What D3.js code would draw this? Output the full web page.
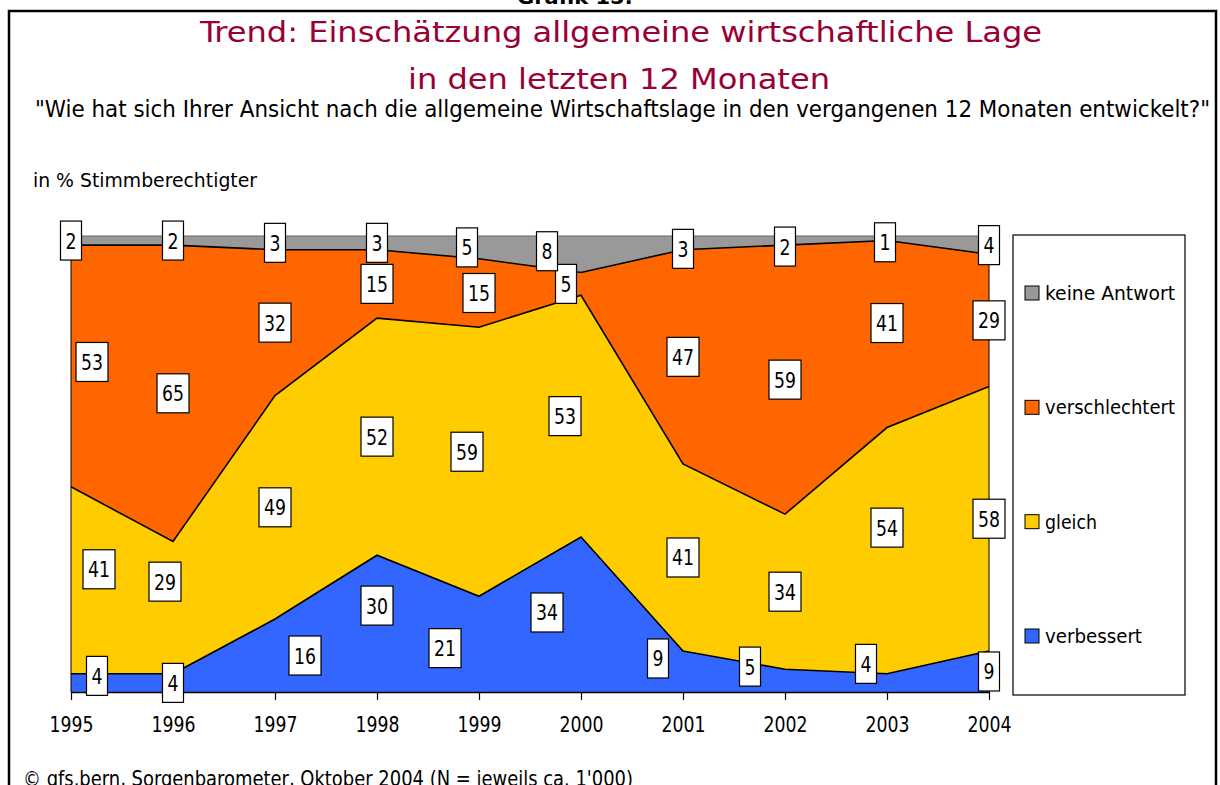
<!DOCTYPE html>
<html>
<head>
<meta charset="utf-8">
<script src="https://cdn.jsdelivr.net/npm/d3@7"></script>
<style>
  html, body { margin: 0; padding: 0; background: #fff; overflow: hidden; }
  svg { display: block; font-family: "DejaVu Sans", Verdana, sans-serif; font-stretch: condensed; }
</style>
</head>
<body>
<svg id="chart" width="1220" height="785"></svg>
<script>
var years = [1995, 1996, 1997, 1998, 1999, 2000, 2001, 2002, 2003, 2004];
var verbessert     = [4, 4, 16, 30, 21, 34, 9, 5, 4, 9];
var gleich         = [41, 29, 49, 52, 59, 53, 41, 34, 54, 58];
var verschlechtert = [53, 65, 32, 15, 15, 5, 47, 59, 41, 29];
var keineAntwort   = [2, 2, 3, 3, 5, 8, 3, 2, 1, 4];

var seriesNames  = ["verbessert", "gleich", "verschlechtert", "keine Antwort"];
var seriesValues = [verbessert, gleich, verschlechtert, keineAntwort];
var seriesColors = ["#3366ff", "#ffcc00", "#ff6600", "#999999"];

// hand-moved data labels in the original (px offsets)
var labelNudge = {
  "keine Antwort": { 1999: [-12, 0], 2000: [-34, -3], 2001: [0, 6], 2002: [0, 6], 2003: [-2, 4] },
  "verschlechtert": { 1995: [21, -4], 2000: [-15, 0], 2003: [0, -11] },
  "gleich": { 1995: [28, -11], 1996: [-8, -26], 1999: [-12, -10], 2000: [-16, 0], 2003: [0, -23] },
  "verbessert": { 1995: [26, -7], 1997: [30, 0], 1998: [0, -18], 1999: [-34, 4], 2000: [-34, -2],
                  2001: [-25, -13], 2002: [-35, -14], 2003: [-21, -19] }
};

var table = years.map(function (yr, i) {
  var row = { year: yr };
  seriesNames.forEach(function (s, k) { row[s] = seriesValues[k][i]; });
  return row;
});

var svg = d3.select("#chart");

var x = d3.scaleLinear().domain([1995, 2004]).range([71, 989]);
var y = d3.scaleLinear().domain([0, 100]).range([692, 236]);

var stacked = d3.stack().keys(seriesNames)(table);

// text helper: size for height, textLength for the width of the original
function label(g, str, px, py, size, width, anchor, color, weight) {
  var t = g.append("text")
    .attr("x", px).attr("y", py)
    .attr("font-size", size)
    .attr("text-anchor", anchor || "start")
    .attr("fill", color || "#000")
    .attr("font-weight", weight || "normal")
    .text(str);
  if (width) t.attr("textLength", width).attr("lengthAdjust", "spacingAndGlyphs");
  return t;
}

// frame
svg.append("rect")
  .attr("x", 9).attr("y", 11).attr("width", 1207).attr("height", 800)
  .attr("fill", "none").attr("stroke", "#000").attr("stroke-width", 2.5);

label(svg, "Grafik 15:", 575, 4, 20, 116, "middle", "#000", "bold");
label(svg, "Trend: Einschätzung allgemeine wirtschaftliche Lage", 621, 42, 28, 842, "middle", "#990033");
label(svg, "in den letzten 12 Monaten", 619, 89, 28, 422, "middle", "#990033");
label(svg, "\"Wie hat sich Ihrer Ansicht nach die allgemeine Wirtschaftslage in den vergangenen 12 Monaten entwickelt?\"",
      35, 117, 23, 1175, "start");
label(svg, "in % Stimmberechtigter", 33, 187, 19, 224, "start");
label(svg, "\u00a9 gfs.bern, Sorgenbarometer, Oktober 2004 (N = jeweils ca. 1'000)", 23, 786, 21, 610, "start");

// areas
var area = d3.area()
  .x(function (d) { return x(d.data.year); })
  .y0(function (d) { return y(d[0]); })
  .y1(function (d) { return y(d[1]); });

var line = d3.line()
  .x(function (d) { return x(d.data.year); })
  .y(function (d) { return y(d[1]); });

var plot = svg.append("g");

plot.selectAll("path.area")
  .data(stacked)
  .enter().append("path")
    .attr("class", "area")
    .attr("d", area)
    .attr("fill", function (d, i) { return seriesColors[i]; });

plot.selectAll("path.edge")
  .data(stacked)
  .enter().append("path")
    .attr("class", "edge")
    .attr("d", line)
    .attr("fill", "none")
    .attr("stroke", function (d, i) { return i == 3 ? "#666" : "#000"; })
    .attr("stroke-width", function (d, i) { return i == 3 ? 1 : 1.6; });

[1995, 2004].forEach(function (yr) {
  plot.append("line")
    .attr("x1", x(yr)).attr("x2", x(yr))
    .attr("y1", y(0)).attr("y2", y(100))
    .attr("stroke", "#000").attr("stroke-width", 1);
});

// x axis
var axis = svg.append("g")
  .attr("transform", "translate(0," + y(0) + ")")
  .call(d3.axisBottom(x).tickValues(years).tickFormat(d3.format("d")).tickSize(8).tickSizeOuter(0));
axis.select(".domain").attr("stroke", "#000").attr("stroke-width", 1.6);
axis.selectAll(".tick line").attr("stroke", "#000").attr("stroke-width", 1.2);
axis.selectAll(".tick text")
  .attr("font-size", 22).attr("fill", "#000")
  .attr("y", 0).attr("dy", 0)
  .attr("transform", "translate(0,40)")
  .attr("textLength", 44).attr("lengthAdjust", "spacingAndGlyphs")
  .attr("font-family", "DejaVu Sans, Verdana, sans-serif");

// data labels
var labels = svg.append("g");
stacked.forEach(function (s) {
  s.forEach(function (d) {
    var val = d.data[s.key];
    var n = labelNudge[s.key][d.data.year] || [0, 0];
    var cx = x(d.data.year) + n[0];
    var cy = y((d[0] + d[1]) / 2) + n[1];
    var tw = String(val).length * 11;
    var bw = tw + 10;
    labels.append("rect")
      .attr("x", cx - bw / 2).attr("y", cy - 19.5)
      .attr("width", bw).attr("height", 39)
      .attr("fill", "#fff").attr("stroke", "#000").attr("stroke-width", 1.2);
    label(labels, String(val), cx, cy + 8, 22, tw, "middle");
  });
});

// legend
var legend = svg.append("g");
legend.append("rect")
  .attr("x", 1013).attr("y", 235).attr("width", 172).attr("height", 460)
  .attr("fill", "#fff").attr("stroke", "#000").attr("stroke-width", 1.2);

var legendWidths = { "keine Antwort": 130, "verschlechtert": 130, "gleich": 52, "verbessert": 97 };
var legendY = d3.scalePoint().domain(seriesNames.slice().reverse()).range([293, 636]);

seriesNames.forEach(function (s, k) {
  var ly = legendY(s);
  legend.append("rect")
    .attr("x", 1025).attr("y", ly - 7).attr("width", 14).attr("height", 14)
    .attr("fill", seriesColors[k]).attr("stroke", "#000").attr("stroke-width", 1);
  label(legend, s, 1045, ly + 7, 19, legendWidths[s], "start");
});
</script>
</body>
</html>
